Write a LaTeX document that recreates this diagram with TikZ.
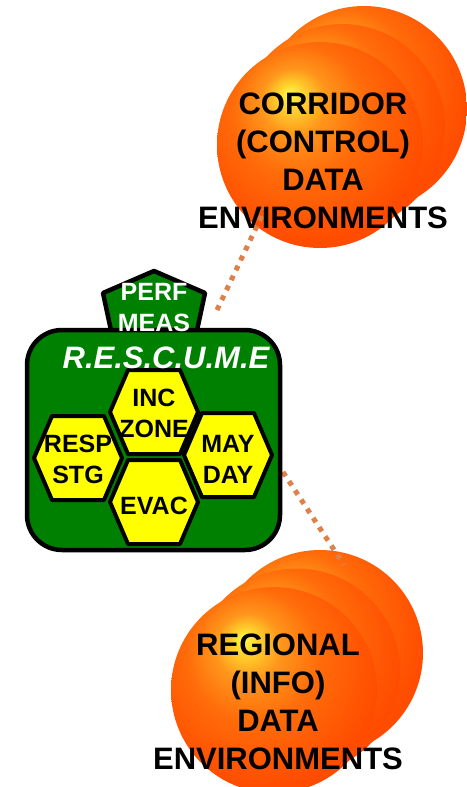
\documentclass[tikz,border=0pt]{standalone}
\usepackage{fontspec}
\setmainfont{Liberation Sans}
\usetikzlibrary{calc}

\definecolor{panelgreen}{RGB}{0,128,0}
\definecolor{hexyellow}{RGB}{255,255,0}
\definecolor{linkorange}{RGB}{222,128,72}
\definecolor{orbhi}{RGB}{255,252,70}
\definecolor{orbwarm}{RGB}{255,212,45}
\definecolor{orbmid}{RGB}{255,150,28}
\definecolor{orbmain}{RGB}{255,108,10}
\definecolor{orbedge}{RGB}{255,76,0}
% only the inner 50bp of a shading is seen, so stops are small
\pgfdeclareradialshading{orbshade}{\pgfpoint{-7.5bp}{12.5bp}}{color(0bp)=(orbhi); color(3bp)=(orbwarm); color(8bp)=(orbmid); color(16bp)=(orbmain); color(29bp)=(orbedge); color(50bp)=(orbedge)}

\begin{document}
\begin{tikzpicture}[x=1pt,y=-1pt,
  ball/.style={circle, minimum size=206pt, inner sep=0pt, shade, shading=orbshade},
  link/.style={draw=linkorange, line width=5pt, dash pattern=on 5pt off 6pt},
  panel/.style={fill=panelgreen, draw=black, line width=4.5pt, line join=round},
  hexcell/.style={fill=hexyellow, draw=black, line width=4pt, line join=round},
  hexcap/.style={font=\bfseries\fontsize{25}{31}\selectfont, align=center, inner sep=0pt},
  bigcap/.style={font=\bfseries\fontsize{31}{38}\selectfont, align=center, inner sep=0pt}]
\useasboundingbox (0,0) rectangle (466,787);
% data environments, back ball first
\foreach \i in {2,1,0}{\node[ball] (corr\i) at ({320+22*\i},{145-18*\i}) {};}
\foreach \i in {2,1,0}{\node[ball] (regn\i) at ({274+23*\i},{690-18.5*\i}) {};}
% dotted links
\coordinate (perfend) at (217,310);
\coordinate (corrend) at (266,207);
\coordinate (panelend) at (283,472);
\coordinate (regnend) at (344,565);
\draw[link] (perfend) -- (corrend);
\draw[link] (panelend) -- (regnend);
% green panel with pentagon on top
\draw[panel] (154,271) -- (205,293) -- (196,335) -- (112,335) -- (103,293) -- cycle;
\draw[panel, rounded corners=35pt] (27,330) rectangle (280,550);
\foreach \cx/\cy in {154/412, 78/458, 228/455, 154/502}
  {\draw[hexcell] (\cx-44,\cy) -- (\cx-26,\cy-42) -- (\cx+26,\cy-42) -- (\cx+44,\cy) -- (\cx+26,\cy+42) -- (\cx-26,\cy+42) -- cycle;}
% labels
\node[hexcap, text=white] (perf) at (154,308) {PERF\\MEAS};
\node[font=\bfseries\itshape\fontsize{31}{31}\selectfont, text=white, inner sep=0pt] (rescume) at (166,358) {R.E.S.C.U.M.E};
\node[hexcap] (inc) at (154,413) {INC\\ZONE};
\node[hexcap] (resp) at (78,459) {RESP\\STG};
\node[hexcap] (may) at (228,459) {MAY\\DAY};
\node[hexcap] (evac) at (154,506) {EVAC};
\node[bigcap] (corrtext) at (323,161) {CORRIDOR\\(CONTROL)\\DATA\\ENVIRONMENTS};
\node[bigcap] (regntext) at (278,702) {REGIONAL\\(INFO)\\DATA\\ENVIRONMENTS};
\end{tikzpicture}
\end{document}
